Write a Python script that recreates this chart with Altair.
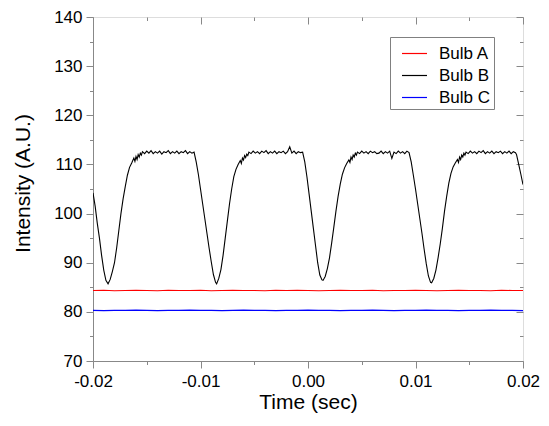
import altair as alt
import pandas as pd

# (time [s], intensity [A.U.])
bulb_b = [
    (-0.0200, 104.2), (-0.0198, 101.5), (-0.0196, 98.0), (-0.0194, 95.0), (-0.0192, 91.5),
    (-0.0190, 88.5), (-0.0188, 86.4), (-0.0186, 85.7),
    (-0.0184, 86.6), (-0.0182, 88.2), (-0.0180, 90.0), (-0.0178, 93.0), (-0.0176, 96.5),
    (-0.0174, 100.0), (-0.0172, 103.0), (-0.0170, 105.5), (-0.0168, 107.8), (-0.0166, 109.4),
    (-0.0164, 110.3), (-0.0162, 111.3), (-0.0161, 110.6), (-0.0160, 111.6), (-0.0159, 111.0),
    (-0.0158, 112.0), (-0.0157, 111.5), (-0.0156, 112.3), (-0.0155, 111.9), (-0.0154, 112.6),
    (-0.0152, 112.2), (-0.0150, 112.7), (-0.0148, 112.3), (-0.0146, 112.8), (-0.0144, 112.2),
    (-0.0142, 112.6), (-0.0140, 112.3), (-0.0138, 112.7), (-0.0136, 112.1), (-0.0134, 112.6),
    (-0.0132, 112.4), (-0.0130, 112.8), (-0.0128, 112.2), (-0.0126, 112.6), (-0.0124, 112.3),
    (-0.0122, 112.7), (-0.0120, 112.2), (-0.0118, 112.6), (-0.0116, 112.4), (-0.0114, 112.8),
    (-0.0112, 112.2), (-0.0110, 112.6), (-0.0108, 112.3), (-0.0106, 112.5),
    (-0.0104, 110.5), (-0.0102, 108.0), (-0.0100, 105.0), (-0.0098, 102.0), (-0.0096, 99.0),
    (-0.0094, 96.0), (-0.0092, 93.0), (-0.0090, 90.2), (-0.0088, 87.6), (-0.0086, 86.0),
    (-0.0085, 85.7),
    (-0.0083, 86.8), (-0.0081, 88.6), (-0.0079, 91.5), (-0.0077, 95.0), (-0.0075, 98.5),
    (-0.0073, 102.0), (-0.0071, 105.0), (-0.0069, 107.5), (-0.0067, 109.0), (-0.0065, 110.0),
    (-0.0063, 110.8), (-0.0062, 110.2), (-0.0061, 111.3), (-0.0060, 110.9), (-0.0059, 111.8),
    (-0.0058, 111.4), (-0.0057, 112.1), (-0.0056, 111.8), (-0.0055, 112.5),
    (-0.0053, 112.2), (-0.0051, 112.7), (-0.0049, 112.3), (-0.0047, 112.6), (-0.0045, 112.2),
    (-0.0043, 112.7), (-0.0041, 112.4), (-0.0039, 112.8), (-0.0037, 112.2), (-0.0035, 112.6),
    (-0.0033, 112.3), (-0.0031, 112.7), (-0.0029, 112.2), (-0.0027, 112.6), (-0.0025, 112.4),
    (-0.0023, 112.7), (-0.0021, 112.2), (-0.0019, 112.6), (-0.0017, 113.6), (-0.0015, 112.3),
    (-0.0013, 112.7), (-0.0011, 112.2), (-0.0009, 112.6), (-0.0007, 112.4), (-0.0005, 112.5),
    (-0.0003, 110.5), (-0.0001, 107.5), (0.0001, 104.0), (0.0003, 100.5), (0.0005, 97.0),
    (0.0007, 93.5), (0.0009, 90.0), (0.0011, 87.5), (0.0013, 86.5), (0.0014, 86.4),
    (0.0016, 87.2), (0.0018, 88.8), (0.0020, 91.0), (0.0022, 94.0), (0.0024, 97.2),
    (0.0026, 100.5), (0.0028, 103.5), (0.0030, 106.0), (0.0032, 108.0), (0.0034, 109.3),
    (0.0036, 110.2), (0.0038, 110.9), (0.0039, 110.4), (0.0040, 111.5), (0.0041, 111.0),
    (0.0042, 111.9), (0.0043, 111.5), (0.0044, 112.3), (0.0045, 111.9), (0.0046, 112.5),
    (0.0048, 112.2), (0.0050, 112.7), (0.0052, 112.3), (0.0054, 112.6), (0.0056, 112.2),
    (0.0058, 112.7), (0.0060, 112.4), (0.0062, 112.6), (0.0064, 112.2), (0.0066, 112.3),
    (0.0068, 112.7), (0.0070, 112.2), (0.0072, 112.6), (0.0074, 112.3), (0.0076, 112.7),
    (0.0078, 111.2), (0.0080, 112.5), (0.0082, 112.2), (0.0084, 112.7), (0.0086, 112.3),
    (0.0088, 112.6), (0.0090, 112.2), (0.0092, 112.7), (0.0094, 112.4),
    (0.0096, 110.5), (0.0098, 107.8), (0.0100, 105.0), (0.0102, 102.0), (0.0104, 99.0),
    (0.0106, 96.0), (0.0108, 92.8), (0.0110, 89.8), (0.0112, 87.3), (0.0114, 86.0),
    (0.0115, 85.9),
    (0.0117, 86.8), (0.0119, 88.5), (0.0121, 91.0), (0.0123, 93.8), (0.0125, 97.0),
    (0.0127, 100.5), (0.0129, 103.5), (0.0131, 106.2), (0.0133, 108.2), (0.0135, 109.5),
    (0.0137, 110.3), (0.0139, 111.0), (0.0140, 110.4), (0.0141, 111.5), (0.0142, 111.0),
    (0.0143, 111.9), (0.0144, 111.5), (0.0145, 112.3), (0.0146, 111.9), (0.0147, 112.5),
    (0.0149, 112.2), (0.0151, 112.7), (0.0153, 112.3), (0.0155, 112.6), (0.0157, 112.2),
    (0.0159, 112.7), (0.0161, 112.4), (0.0163, 112.8), (0.0165, 112.2), (0.0167, 112.6),
    (0.0169, 112.3), (0.0171, 112.7), (0.0173, 112.2), (0.0175, 112.6), (0.0177, 112.4),
    (0.0179, 112.7), (0.0181, 112.2), (0.0183, 112.6), (0.0185, 112.3), (0.0187, 112.7),
    (0.0189, 112.2), (0.0191, 112.6), (0.0193, 112.4), (0.0194, 112.0),
    (0.0196, 110.0), (0.0198, 108.0), (0.0200, 105.9),
]

time_ac = [-0.020, -0.019, -0.018, -0.017, -0.016, -0.015, -0.014, -0.013, -0.012, -0.011,
           -0.010, -0.009, -0.008, -0.007, -0.006, -0.005, -0.004, -0.003, -0.002, -0.001,
           0.000, 0.001, 0.002, 0.003, 0.004, 0.005, 0.006, 0.007, 0.008, 0.009,
           0.010, 0.011, 0.012, 0.013, 0.014, 0.015, 0.016, 0.017, 0.018, 0.019, 0.020]
bulb_a = [84.35, 84.40, 84.30, 84.35, 84.40, 84.35, 84.30, 84.40, 84.35, 84.35,
          84.40, 84.30, 84.35, 84.40, 84.35, 84.35, 84.30, 84.40, 84.35, 84.40,
          84.35, 84.30, 84.35, 84.40, 84.35, 84.35, 84.40, 84.30, 84.35, 84.35,
          84.40, 84.35, 84.30, 84.35, 84.40, 84.35, 84.35, 84.30, 84.40, 84.35, 84.35]
bulb_c = [80.30, 80.25, 80.30, 80.30, 80.35, 80.30, 80.25, 80.30, 80.30, 80.35,
          80.30, 80.30, 80.25, 80.30, 80.35, 80.30, 80.30, 80.25, 80.30, 80.30,
          80.35, 80.30, 80.30, 80.25, 80.30, 80.30, 80.35, 80.30, 80.25, 80.30,
          80.30, 80.35, 80.30, 80.30, 80.25, 80.30, 80.30, 80.35, 80.30, 80.30, 80.25]

series_names = ["Bulb A", "Bulb B", "Bulb C"]
series_colors = ["#FF0000", "#000000", "#0000FF"]

x_major = [-0.02, -0.01, 0.0, 0.01, 0.02]
x_minor = [-0.015, -0.005, 0.005, 0.015]
y_major = [70, 80, 90, 100, 110, 120, 130, 140]
y_minor = [75, 85, 95, 105, 115, 125, 135]

rows = []
for t, v in zip(time_ac, bulb_a):
    rows.append({"t": t, "v": v, "bulb": "Bulb A", "o": 0})
for t, v in bulb_b:
    rows.append({"t": t, "v": v, "bulb": "Bulb B", "o": 1})
for t, v in zip(time_ac, bulb_c):
    rows.append({"t": t, "v": v, "bulb": "Bulb C", "o": 2})
df = pd.DataFrame(rows)

W, H = 430, 344
FONT = "Liberation Sans"
xs = alt.Scale(domain=[-0.02, 0.02], nice=False, zero=False)
ys = alt.Scale(domain=[70, 140], nice=False, zero=False)

fix_minus = "replace(datum.label, '\u2212', '-')"

base = alt.Chart(df)

main = base.mark_line(strokeWidth=1.1, clip=True).encode(
    x=alt.X("t:Q", scale=xs, axis=alt.Axis(
        orient="bottom", values=x_major, format=".2f", labelExpr=fix_minus,
        tickSize=7, labelPadding=5, labelFontSize=17, labelFlush=False,
        grid=False, title="Time (sec)", titleFontSize=21, titlePadding=2,
        titleFontWeight="normal")),
    y=alt.Y("v:Q", scale=ys, axis=alt.Axis(
        orient="left", values=y_major, tickSize=7, labelPadding=4,
        labelFontSize=17, labelFlush=False, grid=False,
        title="Intensity (A.U.)", titleFontSize=21, titleX=-60, titleY=166,
        titleFontWeight="normal")),
    color=alt.Color("bulb:N", scale=alt.Scale(domain=series_names, range=series_colors),
                    legend=alt.Legend(
                        orient="none", legendX=297, legendY=20, title=None,
                        strokeColor="#808080", fillColor="white", padding=3,
                        symbolType="stroke", symbolSize=625, symbolStrokeWidth=1.2,
                        symbolOffset=8, labelFontSize=17, labelFont=FONT,
                        labelOffset=11, rowPadding=-2)),
    detail="bulb:N",
    order="o:Q",
)


def tick_layer(xvals, yvals, size, offset_x, offset_y):
    return base.mark_point(opacity=0).encode(
        x=alt.X("t:Q", scale=xs, axis=alt.Axis(
            orient="bottom", values=xvals, tickSize=size, labels=False, grid=False,
            domain=False, title=None, offset=offset_x)),
        y=alt.Y("v:Q", scale=ys, axis=alt.Axis(
            orient="left", values=yvals, tickSize=size, labels=False, grid=False,
            domain=False, title=None, offset=offset_y)),
    )


minor_out = tick_layer(x_minor, y_minor, 3.5, 0, 0)
major_in = tick_layer(x_major, y_major, 7, -H, -W)
minor_in = tick_layer(x_minor, y_minor, 3.5, -H, -W)

chart = alt.layer(main, minor_out, major_in, minor_in).resolve_axis(
    x="independent", y="independent"
).properties(
    width=W, height=H,
    autosize=alt.AutoSizeParams(type="none"),
    padding={"left": 85, "top": 9, "right": 18, "bottom": 57},
).configure_view(
    stroke="black", strokeWidth=1
).configure_axis(
    labelFont=FONT, titleFont=FONT, labelColor="black", titleColor="black",
    tickColor="black", domainColor="black", tickWidth=1, domainWidth=1, grid=False,
).configure(background="white")

chart.save("out.html", embed_options={"renderer": "svg", "actions": False})
